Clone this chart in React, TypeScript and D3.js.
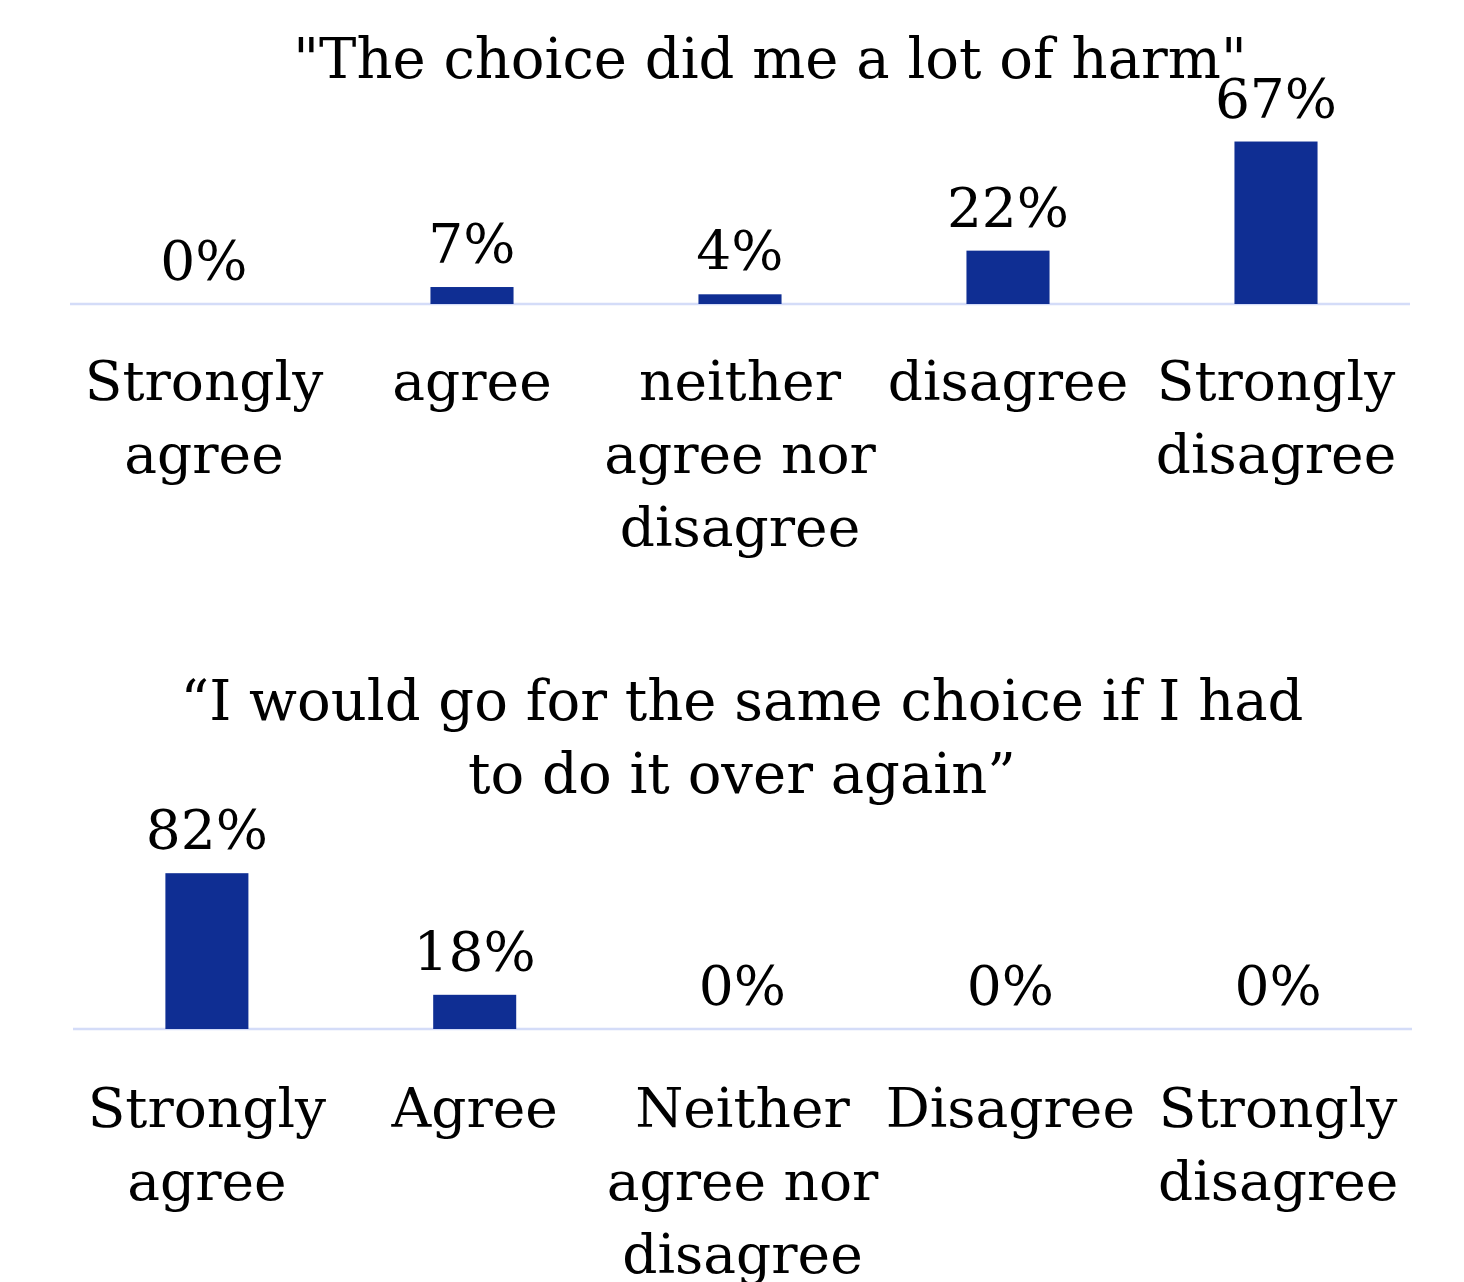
import React from "react";
import * as d3 from "d3";

const title1Lines = ['"The choice did me a lot of harm"'];
const categories1 = ["Strongly agree", "agree", "neither agree nor disagree", "disagree", "Strongly disagree"];
const labelLines1 = [["Strongly", "agree"], ["agree"], ["neither", "agree nor", "disagree"], ["disagree"], ["Strongly", "disagree"]];
const values1 = [0, 7, 4, 22, 67];

const title2Lines = ["\u201CI would go for the same choice if I had", "to do it over again\u201D"];
const categories2 = ["Strongly agree", "Agree", "Neither agree nor disagree", "Disagree", "Strongly disagree"];
const labelLines2 = [["Strongly", "agree"], ["Agree"], ["Neither", "agree nor", "disagree"], ["Disagree"], ["Strongly", "disagree"]];
const values2 = [82, 18, 0, 0, 0];

const FONT = "'DejaVu Serif', Georgia, serif";
const BAR = "#0f2e93";
const BASE = "#d4dcf8";

type PanelProps = {
  titleLines: string[];
  titleX: number;
  titleY: number;
  categories: string[];
  labelLines: string[][];
  values: number[];
  x0: number;
  x1: number;
  baseY: number;
  yMax: number;
  plotH: number;
  catY: number;
};

function Panel(p: PanelProps) {
  const x = d3.scaleBand<string>().domain(p.categories).range([p.x0, p.x1]).paddingInner(0.69).paddingOuter(0.345);
  const y = d3.scaleLinear().domain([0, p.yMax]).range([p.baseY, p.baseY - p.plotH]);
  const fs = 55;
  return (
    <g>
      {p.titleLines.map((t, i) => (
        <text key={i} x={p.titleX} y={p.titleY + i * 73} textAnchor="middle" fontSize={56} fontFamily={FONT} fill="#000">
          {t}
        </text>
      ))}
      <line x1={p.x0} x2={p.x1} y1={p.baseY} y2={p.baseY} stroke={BASE} strokeWidth={2.5} />
      {p.categories.map((c, i) => {
        const bx = x(c)!;
        const bw = x.bandwidth();
        const top = y(p.values[i]);
        return (
          <g key={c}>
            <rect x={bx} y={top} width={bw} height={p.baseY - top} fill={BAR} />
            <text x={bx + bw / 2} y={top - 24} textAnchor="middle" fontSize={fs} fontFamily={FONT} fill="#000">
              {p.values[i] + "%"}
            </text>
            {p.labelLines[i].map((l, j) => (
              <text key={j} x={bx + bw / 2} y={p.catY + j * 73} textAnchor="middle" fontSize={fs} fontFamily={FONT} fill="#000">
                {l}
              </text>
            ))}
          </g>
        );
      })}
    </g>
  );
}

export default function App() {
  return (
    <svg width={1464} height={1282} style={{ position: "absolute", left: 0, top: 0, background: "#fff" }}>
      <Panel
        titleLines={title1Lines}
        titleX={770}
        titleY={78}
        categories={categories1}
        labelLines={labelLines1}
        values={values1}
        x0={70}
        x1={1410}
        baseY={304}
        yMax={80}
        plotH={194}
        catY={400}
      />
      <Panel
        titleLines={title2Lines}
        titleX={742}
        titleY={720}
        categories={categories2}
        labelLines={labelLines2}
        values={values2}
        x0={73}
        x1={1412}
        baseY={1029}
        yMax={100}
        plotH={190}
        catY={1127}
      />
    </svg>
  );
}
